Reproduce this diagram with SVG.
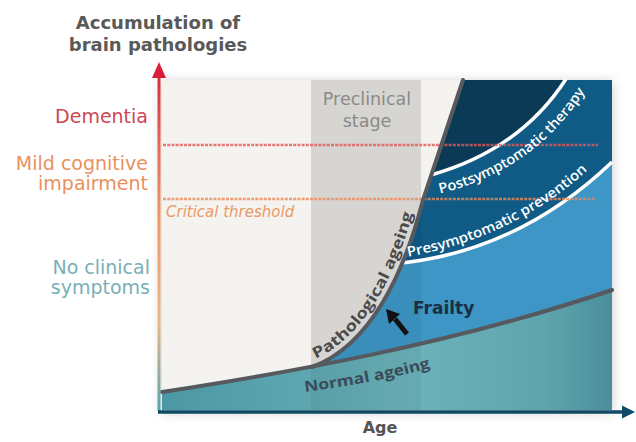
<svg xmlns="http://www.w3.org/2000/svg" width="636" height="442" viewBox="0 0 636 442">
<defs>
<style>
.lbl{font-family:"DejaVu Sans","Liberation Sans",sans-serif}
.title{font-weight:bold;font-size:18px;fill:#595959;text-anchor:middle}
.ylab{font-size:19px;text-anchor:end}
.curve{fill:none;stroke:#565a5e;stroke-width:4;stroke-linecap:round}
.white{fill:none;stroke:#fff;stroke-width:3.5}
.band{font-family:"Open Sans","Liberation Sans",sans-serif;font-weight:600;font-size:14px;fill:#fff}
.onpath{font-family:"Open Sans","Liberation Sans",sans-serif;font-weight:700;font-size:15px}
.dots{fill:none;stroke-width:2.5;stroke-dasharray:3 1.2}
</style>
<filter id="sh" x="-10%" y="-10%" width="120%" height="120%">
<feDropShadow dx="0" dy="2" stdDeviation="6" flood-color="#000" flood-opacity="0.22"/>
</filter>
<linearGradient id="teal" gradientUnits="userSpaceOnUse" x1="162" y1="0" x2="612" y2="0">
<stop offset="0" stop-color="#4b97a3"/>
<stop offset="0.55" stop-color="#6cb3bb"/>
<stop offset="0.85" stop-color="#5ea4ad"/>
<stop offset="1" stop-color="#4b8e9a"/>
</linearGradient>
<linearGradient id="yax" gradientUnits="userSpaceOnUse" x1="0" y1="410" x2="0" y2="62">
<stop offset="0" stop-color="#5aa3ab"/>
<stop offset="0.25" stop-color="#eab888"/>
<stop offset="0.55" stop-color="#f09a60"/>
<stop offset="0.75" stop-color="#e46a5a"/>
<stop offset="1" stop-color="#d81f3a"/>
</linearGradient>
<path id="pPath" d="M310,361 C368,339 400,265 417,198"/>
<path id="pNorm" d="M305,392 C350,386 400,377 440,365"/>
<path id="pPre" d="M406,257 Q520,237 596,162"/>
<path id="pPost" d="M438,194 Q540,170 592,80"/>
</defs>

<g id="panel">
<rect x="162" y="80" width="450" height="330" fill="#f5f3ef" filter="url(#sh)"/>
<rect id="preclinical-band" x="311" y="80" width="110" height="330" fill="#e3e1dd"/>
</g>

<g id="regions">
<path id="light-blue" d="M312,367 C372,345 405,270 423,200 L463,80 L612,80 L612,410 L312,410 Z" fill="#3d96c6"/>
<path id="presymptomatic-band" d="M402,263 Q520,250 612,162 L612,80 L463,80 L423,200 Z" fill="#0f5b86"/>
<path id="postsymptomatic-band" d="M431,175 Q520,150 566,80 L463,80 Z" fill="#0b3a57"/>
<path id="teal" d="M162,392 C280,374 450,345 612,290 L612,410 L162,410 Z" fill="url(#teal)"/>
<rect x="311" y="80" width="110" height="330" fill="#000" opacity="0.05"/>
</g>

<g id="connectors">
<path class="white" d="M402,263 Q520,250 612,162"/>
<path class="white" d="M431,175 Q520,150 566,79"/>
<path class="dots" stroke="#e05a5a" opacity="0.8" d="M163,145 H598"/>
<path class="dots" stroke="#ec8a58" opacity="0.8" d="M163,199 H596"/>
<path id="normal-curve" class="curve" d="M162,392 C280,374 450,345 612,290"/>
<path id="pathological-curve" class="curve" d="M312,367 C372,345 405,270 423,200 L463,80"/>
<path d="M407,334 L395,319" stroke="#111" stroke-width="5" fill="none"/>
<polygon points="386,309 400,314 389,324" fill="#111"/>
<line x1="159" y1="411" x2="159" y2="74" stroke="url(#yax)" stroke-width="3"/>
<polygon points="159,62 152,78 166,78" fill="#d81f3a"/>
<line x1="158" y1="412" x2="625" y2="412" stroke="#0e4a66" stroke-width="3.5"/>
<polygon points="635,412 622,405.5 622,418.5" fill="#0e4a66"/>
</g>

<g id="labels">
<text class="lbl title" x="158" y="28.5">Accumulation of</text>
<text class="lbl title" x="158" y="50.5">brain pathologies</text>
<text class="lbl ylab" x="148" y="123" fill="#cc4750">Dementia</text>
<text class="lbl ylab" x="148" y="170" fill="#e8915e">Mild cognitive</text>
<text class="lbl ylab" x="148" y="190" fill="#e8915e">impairment</text>
<text class="lbl" x="166" y="217" font-size="15" font-style="italic" fill="#ea9a68">Critical threshold</text>
<text class="lbl ylab" x="150" y="274" fill="#78afb7">No clinical</text>
<text class="lbl ylab" x="150" y="294" fill="#78afb7">symptoms</text>
<text class="lbl" x="367" y="105" font-size="17.5" fill="#8a8a8a" text-anchor="middle">Preclinical</text>
<text class="lbl" x="367" y="127" font-size="17.5" fill="#8a8a8a" text-anchor="middle">stage</text>
<text class="lbl" x="380" y="433" font-size="16" font-weight="bold" fill="#555" text-anchor="middle">Age</text>
<text class="lbl" x="413" y="314" font-size="17" font-weight="bold" fill="#1c2e44">Frailty</text>
<text class="onpath" fill="#4a4a4a"><textPath href="#pPath" startOffset="6" textLength="180" lengthAdjust="spacingAndGlyphs">Pathological ageing</textPath></text>
<text class="onpath" fill="#3a4b57"><textPath href="#pNorm" textLength="128" lengthAdjust="spacingAndGlyphs">Normal ageing</textPath></text>
<text class="band"><textPath href="#pPre" startOffset="2" textLength="202" lengthAdjust="spacingAndGlyphs">Presymptomatic prevention</textPath></text>
<text class="band"><textPath href="#pPost" startOffset="2" textLength="182" lengthAdjust="spacingAndGlyphs">Postsymptomatic therapy</textPath></text>
</g>
</svg>
